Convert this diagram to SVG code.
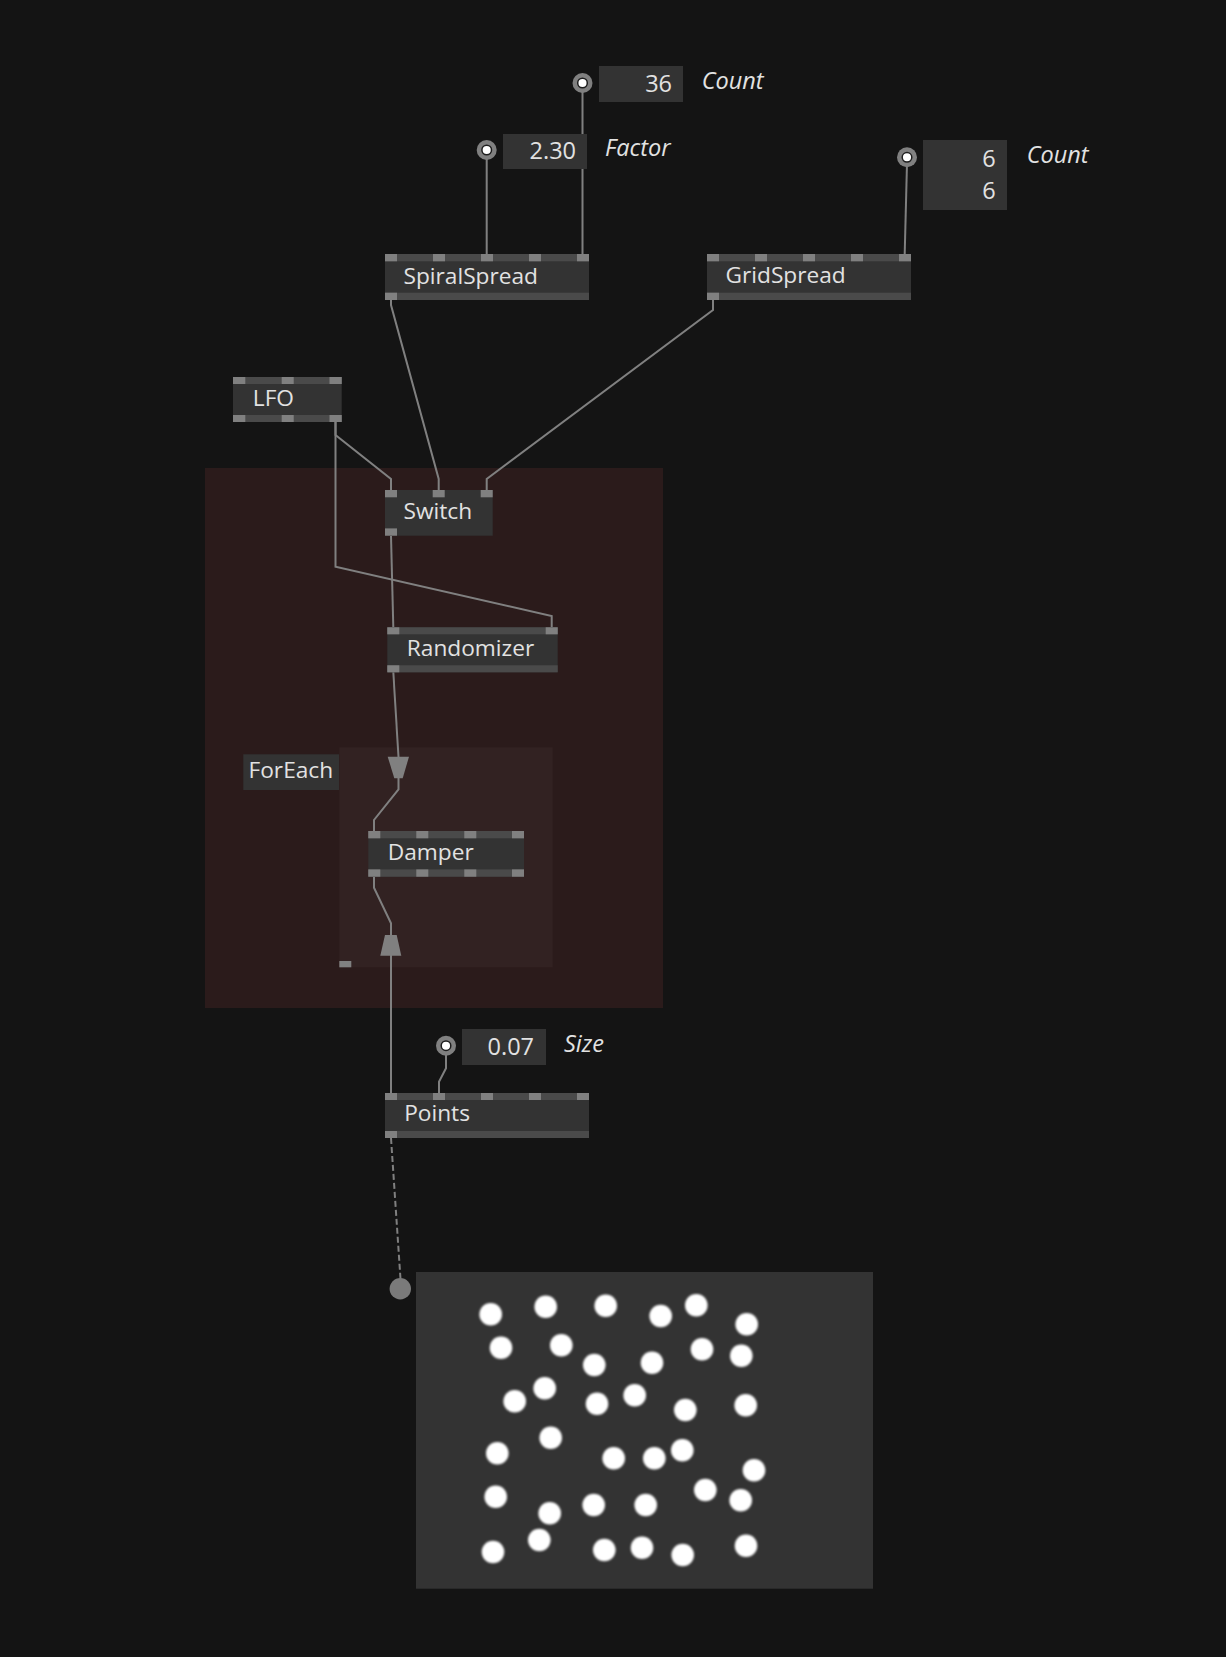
<svg xmlns="http://www.w3.org/2000/svg" width="1226" height="1657" viewBox="0 0 1226 1657">
<style>
.bg{fill:#141414}
.body{fill:#333333}
.bar{fill:#4a4a4a}
.port{fill:#808080}
.wire{fill:none;stroke:#808080;stroke-width:2}
.title{font-family:"Open Sans","DejaVu Sans",sans-serif;font-size:22.7px;fill:#e2e2e2}
.val{font-family:"Open Sans","DejaVu Sans",sans-serif;font-size:23.5px;fill:#e2e2e2;text-anchor:end}
.lbl{font-family:"Open Sans","DejaVu Sans",sans-serif;font-size:23.5px;font-style:italic;fill:#e2e2e2}
.pinO{fill:#808080}
.pinI{fill:#ffffff;stroke:#1e1e1e;stroke-width:1.5}
.dot{fill:#ffffff;filter:url(#soft)}
.arrow{fill:#808080}
</style>
<defs>
<filter id="soft" x="-30%" y="-30%" width="160%" height="160%"><feGaussianBlur stdDeviation="0.9"/></filter>
</defs>
<rect class="bg" x="0" y="0" width="1226" height="1657"/>

<g id="group-outer"><rect x="205" y="468" width="458" height="540" fill="#2b1b1b"/></g>
<g id="group-foreach">
<rect x="339.3" y="747.3" width="213.4" height="220" fill="#322222"/>
<rect x="243.3" y="754.3" width="95.7" height="35.7" class="body"/>
<text x="248.5" y="778.3" class="title">ForEach</text>
<rect x="339.3" y="961" width="12" height="6.3" class="port"/>
</g>

<g id="connectors">
<line class="wire" x1="582.5" y1="90" x2="582.5" y2="254"/>
<line class="wire" x1="486.7" y1="156" x2="486.7" y2="254"/>
<line class="wire" x1="907" y1="163" x2="904.7" y2="254"/>
<polyline class="wire" points="391,300 391,305 438.7,479 438.7,490"/>
<polyline class="wire" points="713,300 713,310 486.7,479 486.7,490"/>
<polyline class="wire" points="335.5,422 335.5,435 391,479 391,490"/>
<polyline class="wire" points="335.5,422 335.5,566.7 551.7,616 551.7,627"/>
<line class="wire" x1="391" y1="536" x2="393.3" y2="627"/>
<line class="wire" x1="444.7" y1="493.7" x2="480.7" y2="493.7"/>
<line class="wire" x1="393.3" y1="672" x2="398.5" y2="757"/>
<polygon class="arrow" points="387.7,756.7 409,756.7 402.7,778.3 394.3,778.3"/>
<polyline class="wire" points="398.5,778 398.5,789.3 374,820 374,831"/>
<polyline class="wire" points="374,877 374,887.7 391,923.3 391,935"/>
<polygon class="arrow" points="385,935 396.7,935 401.3,955.7 380.3,955.7"/>
<line class="wire" x1="391" y1="955" x2="391" y2="1093"/>
<polyline class="wire" points="446,1052 446,1068.3 439,1081.7 439,1093"/>
<line class="wire" x1="391" y1="1138" x2="400.5" y2="1279" stroke-dasharray="6,3"/>
<circle cx="400.3" cy="1288.7" r="10.7" fill="#7a7a7a"/>
</g>

<g id="pin-count">
<rect x="599" y="66" width="84" height="36" class="body"/>
<text x="672" y="91.7" class="val">36</text>
<text x="701.7" y="89" class="lbl">Count</text>
<circle cx="582.5" cy="83" r="10" class="pinO"/>
<circle cx="582.5" cy="83" r="4.8" class="pinI"/>
</g>
<g id="pin-factor">
<rect x="503" y="134" width="84" height="35" class="body"/>
<text x="576" y="159" class="val">2.30</text>
<text x="605" y="155.7" class="lbl">Factor</text>
<circle cx="486.7" cy="150" r="10" class="pinO"/>
<circle cx="486.7" cy="150" r="4.8" class="pinI"/>
</g>
<g id="pin-gridcount">
<rect x="923" y="140" width="84" height="70" class="body"/>
<text x="995.7" y="166.7" class="val">6</text>
<text x="995.7" y="199.3" class="val">6</text>
<text x="1026.7" y="163.3" class="lbl">Count</text>
<circle cx="907" cy="157.3" r="10" class="pinO"/>
<circle cx="907" cy="157.3" r="4.8" class="pinI"/>
</g>
<g id="pin-size">
<rect x="462" y="1029" width="84" height="36" class="body"/>
<text x="534" y="1055" class="val">0.07</text>
<text x="564" y="1051.7" class="lbl">Size</text>
<circle cx="446" cy="1045.7" r="10" class="pinO"/>
<circle cx="446" cy="1045.7" r="4.8" class="pinI"/>
</g>

<g id="node-spiralspread">
<rect x="385" y="254" width="204" height="46" class="body"/>
<rect x="385" y="254" width="204" height="7.3" class="bar"/>
<rect x="385" y="292.7" width="204" height="7.3" class="bar"/>
<rect x="385" y="254" width="12" height="7.3" class="port"/>
<rect x="433" y="254" width="12" height="7.3" class="port"/>
<rect x="481" y="254" width="12" height="7.3" class="port"/>
<rect x="529" y="254" width="12" height="7.3" class="port"/>
<rect x="577" y="254" width="12" height="7.3" class="port"/>
<rect x="385" y="292.7" width="12" height="7.3" class="port"/>
<text x="403.5" y="284" class="title">SpiralSpread</text>
</g>

<g id="node-gridspread">
<rect x="707" y="254" width="204" height="46" class="body"/>
<rect x="707" y="254" width="204" height="7.3" class="bar"/>
<rect x="707" y="292.7" width="204" height="7.3" class="bar"/>
<rect x="707" y="254" width="12" height="7.3" class="port"/>
<rect x="755" y="254" width="12" height="7.3" class="port"/>
<rect x="803" y="254" width="12" height="7.3" class="port"/>
<rect x="851" y="254" width="12" height="7.3" class="port"/>
<rect x="899" y="254" width="12" height="7.3" class="port"/>
<rect x="707" y="292.7" width="12" height="7.3" class="port"/>
<text x="725.5" y="283.3" class="title">GridSpread</text>
</g>

<g id="node-lfo">
<rect x="233" y="377" width="108.7" height="45" class="body"/>
<rect x="233" y="377" width="108.7" height="7" class="bar"/>
<rect x="233" y="415" width="108.7" height="7" class="bar"/>
<rect x="233" y="377" width="12.3" height="7" class="port"/>
<rect x="281.7" y="377" width="12" height="7" class="port"/>
<rect x="329.5" y="377" width="12.2" height="7" class="port"/>
<rect x="233" y="415" width="12.3" height="7" class="port"/>
<rect x="281.7" y="415" width="12" height="7" class="port"/>
<rect x="329.5" y="415" width="12.2" height="7" class="port"/>
<text x="252.8" y="405.7" class="title">LFO</text>
</g>

<g id="node-switch">
<rect x="385" y="490" width="107.7" height="45.7" class="body"/>
<rect x="385" y="490" width="12" height="7.3" class="port"/>
<rect x="432.7" y="490" width="12" height="7.3" class="port"/>
<rect x="480.7" y="490" width="12" height="7.3" class="port"/>
<rect x="385" y="528.4" width="12" height="7.3" class="port"/>
<text x="403.5" y="519" class="title">Switch</text>
</g>

<g id="node-randomizer">
<rect x="387.3" y="627.3" width="170.4" height="45" class="body"/>
<rect x="387.3" y="627.3" width="170.4" height="7" class="bar"/>
<rect x="387.3" y="665.3" width="170.4" height="7" class="bar"/>
<rect x="387.3" y="627.3" width="12" height="7" class="port"/>
<rect x="545.7" y="627.3" width="12" height="7" class="port"/>
<rect x="387.3" y="665.3" width="12" height="7" class="port"/>
<text x="406.8" y="655.7" class="title">Randomizer</text>
</g>

<g id="node-damper">
<rect x="368.3" y="831" width="155.7" height="45.7" class="body"/>
<rect x="368.3" y="831" width="155.7" height="7.3" class="bar"/>
<rect x="368.3" y="869.4" width="155.7" height="7.3" class="bar"/>
<rect x="368.3" y="831" width="12" height="7.3" class="port"/>
<rect x="416.3" y="831" width="12" height="7.3" class="port"/>
<rect x="464.3" y="831" width="12" height="7.3" class="port"/>
<rect x="512" y="831" width="12" height="7.3" class="port"/>
<rect x="368.3" y="869.4" width="12" height="7.3" class="port"/>
<rect x="416.3" y="869.4" width="12" height="7.3" class="port"/>
<rect x="464.3" y="869.4" width="12" height="7.3" class="port"/>
<rect x="512" y="869.4" width="12" height="7.3" class="port"/>
<text x="387.8" y="860" class="title">Damper</text>
</g>

<g id="node-points">
<rect x="385" y="1093" width="204" height="45" class="body"/>
<rect x="385" y="1093" width="204" height="7" class="bar"/>
<rect x="385" y="1131" width="204" height="7" class="bar"/>
<rect x="385" y="1093" width="12" height="7" class="port"/>
<rect x="433" y="1093" width="12" height="7" class="port"/>
<rect x="481" y="1093" width="12" height="7" class="port"/>
<rect x="529" y="1093" width="12" height="7" class="port"/>
<rect x="577" y="1093" width="12" height="7" class="port"/>
<rect x="385" y="1131" width="12" height="7" class="port"/>
<text x="404.2" y="1121" class="title">Points</text>
</g>

<g id="preview">
<rect x="416" y="1272" width="457" height="316.7" fill="#333333"/>
<g class="dots">
<circle class="dot" cx="490.7" cy="1314.3" r="11.3"/>
<circle class="dot" cx="545.7" cy="1306.7" r="11.3"/>
<circle class="dot" cx="605.7" cy="1305.7" r="11.3"/>
<circle class="dot" cx="660.7" cy="1316" r="11.3"/>
<circle class="dot" cx="696.3" cy="1305.3" r="11.3"/>
<circle class="dot" cx="746.7" cy="1324.3" r="11.3"/>
<circle class="dot" cx="501" cy="1347.7" r="11.3"/>
<circle class="dot" cx="561.3" cy="1345.3" r="11.3"/>
<circle class="dot" cx="594.3" cy="1365" r="11.3"/>
<circle class="dot" cx="652" cy="1362.7" r="11.3"/>
<circle class="dot" cx="702" cy="1349.3" r="11.3"/>
<circle class="dot" cx="741.3" cy="1355.7" r="11.3"/>
<circle class="dot" cx="514.7" cy="1401.3" r="11.3"/>
<circle class="dot" cx="544.7" cy="1388.3" r="11.3"/>
<circle class="dot" cx="597" cy="1403.7" r="11.3"/>
<circle class="dot" cx="634.7" cy="1395.3" r="11.3"/>
<circle class="dot" cx="685.3" cy="1410" r="11.3"/>
<circle class="dot" cx="745.7" cy="1405.3" r="11.3"/>
<circle class="dot" cx="497.3" cy="1453.3" r="11.3"/>
<circle class="dot" cx="550.7" cy="1437.7" r="11.3"/>
<circle class="dot" cx="613.7" cy="1458.3" r="11.3"/>
<circle class="dot" cx="654.3" cy="1458.3" r="11.3"/>
<circle class="dot" cx="682.3" cy="1450.3" r="11.3"/>
<circle class="dot" cx="754" cy="1470.3" r="11.3"/>
<circle class="dot" cx="495.7" cy="1496.7" r="11.3"/>
<circle class="dot" cx="549.7" cy="1513.3" r="11.3"/>
<circle class="dot" cx="593.7" cy="1505" r="11.3"/>
<circle class="dot" cx="645.7" cy="1505" r="11.3"/>
<circle class="dot" cx="705.3" cy="1490" r="11.3"/>
<circle class="dot" cx="740.7" cy="1500.3" r="11.3"/>
<circle class="dot" cx="493" cy="1552" r="11.3"/>
<circle class="dot" cx="539.3" cy="1540" r="11.3"/>
<circle class="dot" cx="604.3" cy="1550" r="11.3"/>
<circle class="dot" cx="642" cy="1547.7" r="11.3"/>
<circle class="dot" cx="682.7" cy="1555" r="11.3"/>
<circle class="dot" cx="746" cy="1545.7" r="11.3"/>
</g>
</g>
</svg>
